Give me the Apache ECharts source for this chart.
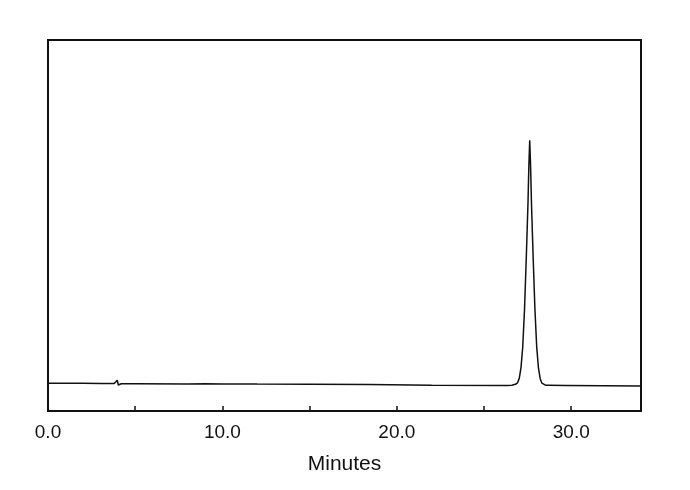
<!DOCTYPE html>
<html>
<head>
<meta charset="utf-8">
<script src="https://cdn.jsdelivr.net/npm/echarts@6/dist/echarts.min.js"></script>
<style>html,body{margin:0;padding:0;background:#fff}#c{width:690px;height:490px}</style>
</head>
<body>
<div id="c"></div>
<script>
const times = [0, 1, 2, 3, 3.8, 3.9, 3.97, 4.03, 4.1, 4.2, 5, 8, 9, 10, 12, 15, 18.4, 18.5, 22, 26.3, 26.6, 26.8,
  26.92, 27.02, 27.12, 27.22, 27.32, 27.42, 27.52, 27.57, 27.62, 27.67, 27.72, 27.82, 27.92, 28.02, 28.12, 28.22, 28.32, 28.42, 28.52,
  28.7, 29.7, 29.8, 34];
const signal = [7.5, 7.5, 7.45, 7.4, 7.4, 7.6, 8.3, 7.0, 7.5, 7.35, 7.35, 7.3, 7.35, 7.3, 7.25, 7.2, 7.15, 6.95, 6.95, 6.9, 6.95, 7.2,
  7.6, 8.8, 11.7, 17.3, 27.2, 40.9, 56.0, 66.0, 73.0, 66.0, 56.0, 40.9, 27.2, 17.3, 11.6, 8.7, 7.5, 7.1, 6.95,
  6.95, 6.9, 6.75, 6.75];
const xTickLabels = ['0.0', '10.0', '20.0', '30.0'];
const xTitle = 'Minutes';

const chart = echarts.init(document.getElementById('c'));
chart.setOption({
  animation: false,
  backgroundColor: '#fff',
  grid: { left: 48, right: 49, top: 40, bottom: 79, show: true, borderColor: '#111', borderWidth: 2, containLabel: false },
  xAxis: {
    type: 'value', min: 0, max: 34, interval: 5,
    name: xTitle, nameLocation: 'middle', nameGap: 43,
    nameTextStyle: { fontFamily: 'Liberation Sans, Arial', fontSize: 21, color: '#111' },
    axisLine: { show: true, onZero: false, lineStyle: { color: '#111', width: 2 } },
    axisTick: { show: true, inside: true, length: 5, lineStyle: { color: '#111', width: 1.5 } },
    axisLabel: {
      color: '#111', fontFamily: 'Liberation Sans, Arial', fontSize: 19, margin: 12,
      showMaxLabel: false,
      formatter: function (v) { return v % 10 === 0 ? xTickLabels[v / 10] : ''; }
    },
    splitLine: { show: false }
  },
  yAxis: {
    type: 'value', min: 0, max: 100,
    axisLine: { show: true, lineStyle: { color: '#111', width: 2 } },
    axisTick: { show: false }, axisLabel: { show: false }, splitLine: { show: false }
  },
  series: [{
    type: 'line',
    data: times.map((t, i) => [t, signal[i]]),
    showSymbol: false, smooth: false,
    lineStyle: { color: '#111', width: 1.5 }
  }]
});
</script>
</body>
</html>
